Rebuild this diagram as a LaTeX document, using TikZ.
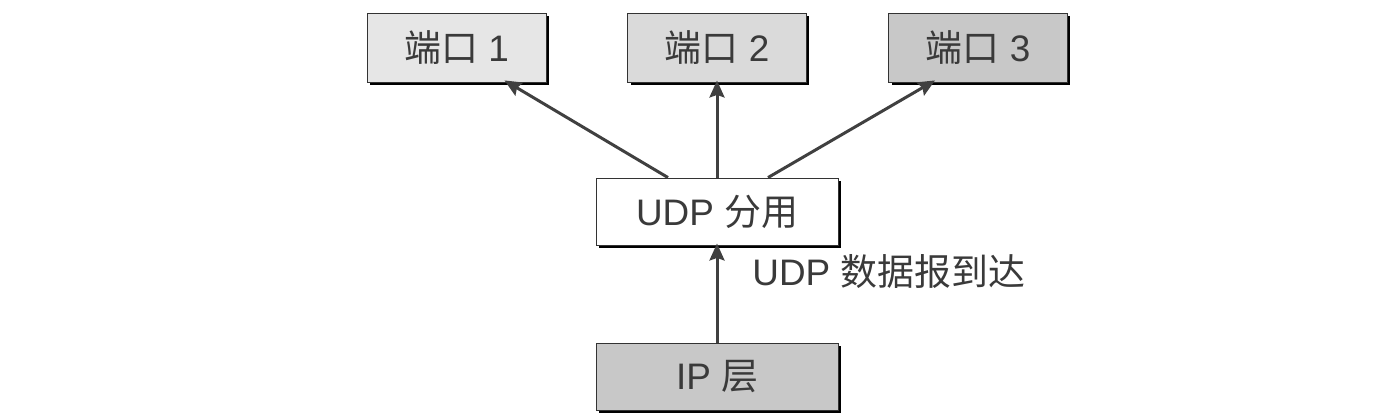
\documentclass[tikz,border=0pt]{standalone}
\usepackage{fontspec}
\setmainfont{Liberation Sans}
\newfontfamily\cjk{Noto Sans CJK SC}
\usepackage{tikz}
\usetikzlibrary{arrows.meta,positioning,calc,shadows}
\definecolor{textgray}{RGB}{58,58,58}
\definecolor{linegray}{RGB}{64,64,64}
\definecolor{portone}{RGB}{230,230,230}
\definecolor{porttwo}{RGB}{218,218,218}
\definecolor{portthree}{RGB}{200,200,200}
\definecolor{iplayer}{RGB}{200,200,200}

\begin{document}
\begin{tikzpicture}[x=0.02cm, y=-0.02cm]
\tikzstyle{box} = [rectangle, draw=black!80, line width=0.5pt, text=textgray, font=\fontsize{21pt}{25pt}\selectfont, inner sep=0pt, drop shadow={shadow xshift=0.06cm, shadow yshift=-0.06cm, fill=black, opacity=1}]
\tikzstyle{portbox} = [box, minimum width=3.58cm, minimum height=1.38cm]
\tikzstyle{layerbox} = [box, minimum width=4.84cm, minimum height=1.34cm]
\tikzstyle{arrow} = [line width=1.7pt, draw=linegray, ->, >={Stealth[length=0.34cm, width=0.3cm, inset=0.05cm]}]

\useasboundingbox (0,0) rectangle (1385,418);

\node (Port1) [portbox, fill=portone] at (456.5,47.5) {{\cjk 端口} 1};
\node (Port2) [portbox, fill=porttwo] at (717,47.5) {{\cjk 端口} 2};
\node (Port3) [portbox, fill=portthree] at (978,47.5) {{\cjk 端口} 3};

\node (UdpDemux) [layerbox, fill=white] at (717,211.5) {UDP {\cjk 分用}};
\node (IpLayer) [layerbox, fill=iplayer] at (717,376.5) {IP {\cjk 层}};

\draw [arrow] ($(UdpDemux.north)+(-49,0)$) -- ($(Port1.south)+(48,-2)$);
\draw [arrow] (UdpDemux.north) -- ($(Port2.south)+(0,-2)$);
\draw [arrow] ($(UdpDemux.north)+(51,0)$) -- ($(Port3.south)+(-43,-2)$);
\draw [arrow] (IpLayer.north) -- ($(UdpDemux.south)+(0,-2)$);

\node (Arrival) [anchor=west, text=textgray, font=\fontsize{21pt}{25pt}\selectfont, inner sep=0pt] at (752,272) {UDP {\cjk 数据报到达}};
\end{tikzpicture}
\end{document}
